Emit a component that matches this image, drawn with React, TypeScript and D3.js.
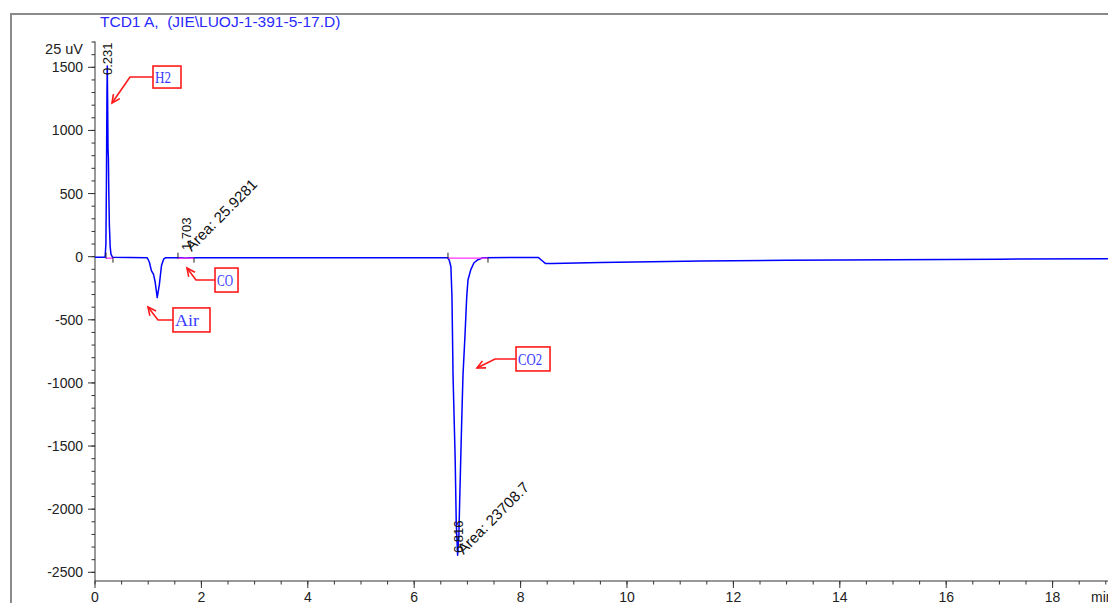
import React from "react";
import * as d3 from "d3";

// ---- data ----
const traceTime = [
  0.0, 0.19, 0.205, 0.215, 0.225, 0.231, 0.238, 0.245, 0.252, 0.26, 0.27, 0.285, 0.3, 0.33,
  0.98, 1.02, 1.06, 1.1, 1.13, 1.17, 1.21, 1.25, 1.29, 1.33,
  1.65, 1.703, 1.76, 6.63, 6.66, 6.69, 6.71, 6.73, 6.77, 6.79, 6.816, 6.84, 6.86, 6.89, 6.917,
  6.955, 6.987, 7.011, 7.062, 7.124, 7.199, 7.29, 8.33, 8.4, 8.47, 8.6, 9.5, 11.4, 13, 15, 17, 19.1,
];
const traceSignal = [
  -5, -5, 100, 600, 1300, 1510, 1200, 850, 780, 500, 250, 80, 20, -5,
  -8, -40, -110, -140, -200, -324, -220, -70, -20, -8,
  -8, -12, -8, -8, -30, -80, -320, -940, -1600, -2100, -2365, -2200, -1850, -1350, -940,
  -620, -320, -185, -105, -48, -24, -8, -6, -30, -55, -55, -46, -34, -28, -24, -20, -16,
];

const xMajorTicks = [0, 2, 4, 6, 8, 10, 12, 14, 16, 18];
const yMajorTicks = [-2500, -2000, -1500, -1000, -500, 0, 500, 1000, 1500];

const peakTimes = [0.231, 1.703, 6.816];
const peakLabelValue = [1439, 53, -2347];
const peakAreaText = ["", "Area: 25.9281", "Area: 23708.7"];
const intStart = [0.207, 1.56, 6.635];
const intEnd = [0.338, 1.861, 7.387];
const intBase = [-8, -8, -8];

const annLabels = ["H2", "CO", "Air", "CO2"];
const annBoxT = [1.09, 2.256, 1.466, 7.914];
const annBoxV = [1510, -90, -406, -715];
const annTipT = [0.32, 1.729, 0.996, 7.18];
const annTipV = [1217, -90, -399, -882];
const annElbowT = [0.658, 1.898, 1.184, 7.519];

const title = "TCD1 A,  (JIE\\LUOJ-1-391-5-17.D)";

// ---- layout / style ----
const W = 1108;
const H = 603;
const annBoxW = [28, 23, 37, 34];
const annBoxH = [22, 24, 24, 24];

export default function App() {
  const x = d3.scaleLinear().domain([0, 19]).range([95, 95 + 19 * 53.2]);
  const y = d3.scaleLinear().domain([-2500, 1500]).range([572.3, 67.3]);
  const axisY = 581;
  const axisX = 95;
  const yTop = y(1705);

  const line = d3
    .line<number>()
    .x((_, i) => x(traceTime[i]))
    .y((d) => y(d));
  const path = line(traceSignal) || "";

  const xMinor = d3.range(0, 19.01, 0.5);
  const yMinor = d3.range(-2500, 1701, 100);
  const font = "Liberation Sans, Arial, sans-serif";

  const arrowHead = (tx: number, ty: number, fx: number, fy: number) => {
    const ang = Math.atan2(ty - fy, tx - fx);
    const L = 9;
    const a1 = ang + Math.PI - 0.45;
    const a2 = ang + Math.PI + 0.45;
    return `M${tx + L * Math.cos(a1)},${ty + L * Math.sin(a1)}L${tx},${ty}L${tx + L * Math.cos(a2)},${ty + L * Math.sin(a2)}`;
  };

  return (
    <svg
      width={W}
      height={H}
      style={{ position: "absolute", left: 0, top: 0, background: "#fff" }}
    >
      {/* frame */}
      <line x1={11} y1={14} x2={W} y2={14} stroke="#8a8a8a" strokeWidth={2} />
      <line x1={11} y1={13} x2={11} y2={H} stroke="#8a8a8a" strokeWidth={2} />

      {/* title */}
      <text
        x={100}
        y={27}
        fontFamily={font}
        fontSize={15.5}
        fill="#2a2aff"
        style={{ whiteSpace: "pre" }}
      >
        {title}
      </text>

      {/* y axis */}
      <line x1={axisX} y1={yTop} x2={axisX} y2={axisY} stroke="#333" />
      {yMinor.map((v) => (
        <line key={"ym" + v} x1={axisX - 3.5} x2={axisX} y1={y(v)} y2={y(v)} stroke="#333" />
      ))}
      {yMajorTicks.map((v) => (
        <g key={"yM" + v}>
          <line x1={axisX - 7} x2={axisX} y1={y(v)} y2={y(v)} stroke="#333" />
          <text
            x={83}
            y={y(v) + 5}
            textAnchor="end"
            fontFamily={font}
            fontSize={14}
            fill="#222"
          >
            {v}
          </text>
        </g>
      ))}
      <text x={83} y={54} textAnchor="end" fontFamily={font} fontSize={14.5} fill="#222">
        25 uV
      </text>

      {/* x axis */}
      <line x1={axisX} y1={axisY} x2={W} y2={axisY} stroke="#333" />
      {xMinor.map((t) => (
        <line key={"xm" + t} x1={x(t)} x2={x(t)} y1={axisY} y2={axisY + 3.5} stroke="#333" />
      ))}
      {xMajorTicks.map((t) => (
        <g key={"xM" + t}>
          <line x1={x(t)} x2={x(t)} y1={axisY} y2={axisY + 7} stroke="#333" />
          <text
            x={x(t)}
            y={602}
            textAnchor="middle"
            fontFamily={font}
            fontSize={14}
            fill="#222"
          >
            {t}
          </text>
        </g>
      ))}
      <text x={1091} y={602} fontFamily={font} fontSize={14} fill="#222">
        min
      </text>

      {/* trace */}
      <path d={path} fill="none" stroke="#0000ff" strokeWidth={1.5} strokeLinejoin="round" />

      {/* integration baselines */}
      {intStart.map((s, i) => (
        <g key={"int" + i}>
          <line
            x1={x(s)}
            x2={x(intEnd[i])}
            y1={y(intBase[i]) + 0.5}
            y2={y(intBase[i]) + 0.5}
            stroke="#ff33ff"
            strokeWidth={1.3}
          />
          <line x1={x(s)} x2={x(s)} y1={y(intBase[i]) - 5} y2={y(intBase[i]) + 1} stroke="#222" />
          <line
            x1={x(intEnd[i])}
            x2={x(intEnd[i])}
            y1={y(intBase[i])}
            y2={y(intBase[i]) + 5}
            stroke="#222"
          />
        </g>
      ))}

      {/* peak labels */}
      {peakTimes.map((t, i) => {
        const px = x(t) + 5;
        const py = y(peakLabelValue[i]);
        return (
          <g key={"pk" + i}>
            <text
              transform={`translate(${px},${py}) rotate(-90)`}
              fontFamily={font}
              fontSize={13}
              fill="#111"
            >
              {t.toFixed(3)}
            </text>
            {peakAreaText[i] && (
              <text
                transform={`translate(${px + 1},${py + 2}) rotate(-45)`}
                fontFamily={font}
                fontSize={15}
                fill="#111"
              >
                {peakAreaText[i]}
              </text>
            )}
          </g>
        );
      })}

      {/* annotations */}
      {annLabels.map((lab, i) => {
        const bx = x(annBoxT[i]);
        const by = y(annBoxV[i]);
        const my = by + annBoxH[i] / 2;
        const ex = x(annElbowT[i]);
        const tx = x(annTipT[i]);
        const ty = y(annTipV[i]);
        return (
          <g key={"ann" + i}>
            <rect
              x={bx}
              y={by}
              width={annBoxW[i]}
              height={annBoxH[i]}
              fill="none"
              stroke="#ff1a1a"
              strokeWidth={1.6}
            />
            <text
              x={bx + 2}
              y={by + annBoxH[i] / 2 + 6}
              fontFamily="Liberation Serif, DejaVu Serif, serif"
              fontSize={16}
              fill="#3a3aff"
              textLength={lab.length * 8}
              lengthAdjust="spacingAndGlyphs"
            >
              {lab}
            </text>
            <path
              d={`M${bx},${my}L${ex},${my}L${tx},${ty}`}
              fill="none"
              stroke="#ff1a1a"
              strokeWidth={1.6}
            />
            <path d={arrowHead(tx, ty, ex, my)} fill="none" stroke="#ff1a1a" strokeWidth={1.6} />
          </g>
        );
      })}
    </svg>
  );
}
